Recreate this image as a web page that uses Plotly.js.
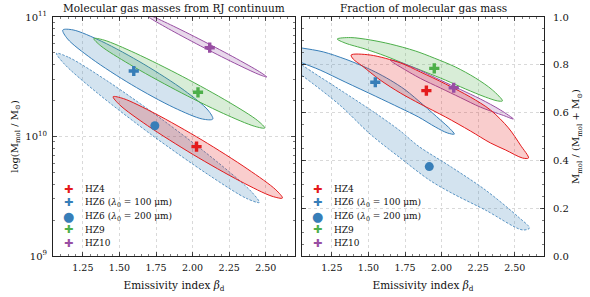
<!DOCTYPE html>
<html>
<head>
<meta charset="utf-8">
<script src="https://cdn.plot.ly/plotly-3.0.1.min.js"></script>
<style>html,body{margin:0;padding:0;background:#fff;}#chart{width:590px;height:297px;}</style>
</head>
<body>
<div id="chart"></div>
<script>
// ---------- data ----------
const sourceNames = ['HZ4', 'HZ6 (λ0 = 100 μm)', 'HZ6 (λ0 = 200 μm)', 'HZ9', 'HZ10'];
const sourceColors = ['#e41a1c', '#377eb8', '#377eb8', '#4daf4a', '#984ea3'];
const sourceSymbols = ['cross', 'cross', 'circle', 'cross', 'cross'];

// best-fit points
const bestBetaMass = [2.027, 1.598, 1.742, 2.037, 2.117];
const bestLogMass  = [9.915, 10.548, 10.090, 10.370, 10.743];
const bestBetaFrac = [1.896, 1.547, 1.916, 1.950, 2.083];
const bestFrac     = [0.692, 0.727, 0.374, 0.785, 0.704];

// confidence contours, left panel (beta, log10 M_mol)
const hz4MassBeta = [1.457,1.528,1.742,2.065,2.378,2.569,2.614,2.543,2.329,2.005,1.692,1.502];
const hz4MassLog  = [10.333,10.317,10.193,9.970,9.726,9.554,9.485,9.500,9.624,9.848,10.091,10.264];
const hz6aMassBeta = [1.113,1.183,1.379,1.667,1.943,2.105,2.138,2.068,1.872,1.584,1.309,1.146];
const hz6aMassLog  = [10.891,10.892,10.796,10.605,10.386,10.221,10.146,10.146,10.242,10.433,10.652,10.816];
const hz6bMassBeta = [1.070,1.156,1.413,1.800,2.175,2.403,2.456,2.370,2.113,1.725,1.350,1.123];
const hz6bMassLog  = [10.696,10.661,10.468,10.135,9.781,9.537,9.448,9.481,9.676,10.009,10.363,10.607];
const hz9MassBeta = [1.325,1.394,1.608,1.933,2.250,2.445,2.493,2.425,2.210,1.885,1.568,1.373];
const hz9MassLog  = [10.820,10.807,10.698,10.501,10.286,10.133,10.071,10.085,10.193,10.390,10.605,10.758];
const hz10MassBeta = [1.673,1.719,1.868,2.099,2.326,2.469,2.507,2.462,2.312,2.081,1.854,1.711];
const hz10MassLog  = [11.025,11.008,10.924,10.782,10.634,10.533,10.498,10.515,10.599,10.741,10.889,10.990];

// confidence contours, right panel (beta, gas fraction)
const hz4FracBeta = [1.382,1.512,1.718,1.855,2.026,2.197,2.334,2.457,2.539,2.594,2.553,2.436,2.334,2.197,2.026,1.855,1.718,1.581,1.458,1.396];
const hz4FracVal  = [0.841,0.841,0.808,0.770,0.720,0.665,0.611,0.536,0.464,0.410,0.410,0.444,0.473,0.523,0.582,0.636,0.682,0.736,0.795,0.824];
const hz6aFracBeta = [0.931,1.047,1.191,1.341,1.444,1.547,1.649,1.752,1.875,1.992,2.060,2.087,2.039,1.957,1.841,1.718,1.547,1.341,1.170,1.047,0.931];
const hz6aFracVal  = [0.879,0.870,0.854,0.824,0.799,0.770,0.736,0.695,0.632,0.569,0.531,0.510,0.515,0.540,0.582,0.619,0.669,0.728,0.778,0.808,0.837];
const hz6bFracBeta = [0.931,1.047,1.307,1.547,1.718,1.841,2.067,2.300,2.525,2.601,2.553,2.300,2.067,1.916,1.718,1.512,1.307,1.047,0.931];
const hz6bFracVal  = [0.854,0.799,0.695,0.598,0.523,0.460,0.372,0.276,0.163,0.117,0.109,0.192,0.264,0.318,0.410,0.510,0.630,0.755,0.805];
const hz9FracBeta = [1.287,1.376,1.512,1.649,1.820,1.950,2.094,2.231,2.347,2.416,2.382,2.300,2.163,2.026,1.889,1.752,1.615,1.478,1.341];
const hz9FracVal  = [0.908,0.914,0.904,0.887,0.858,0.828,0.791,0.745,0.695,0.649,0.649,0.665,0.699,0.736,0.770,0.803,0.837,0.866,0.891];
const hz10FracBeta = [1.649,1.718,1.855,1.992,2.128,2.265,2.402,2.491,2.423,2.265,2.128,1.992,1.855,1.718,1.663];
const hz10FracVal  = [0.820,0.810,0.776,0.736,0.697,0.657,0.611,0.573,0.588,0.623,0.663,0.703,0.743,0.791,0.812];

// axis ticks
const betaTicks = [1.25, 1.50, 1.75, 2.00, 2.25, 2.50];
const betaTickText = ['1.25', '1.50', '1.75', '2.00', '2.25', '2.50'];
const massTicks = [1e9, 1e10, 1e11];
const massTickText = ['10<sup>9</sup>', '10<sup>10</sup>', '10<sup>11</sup>'];
const massMinorTicks = [2e9,3e9,4e9,5e9,6e9,7e9,8e9,9e9,2e10,3e10,4e10,5e10,6e10,7e10,8e10,9e10];
const fracTicks = [0, 0.2, 0.4, 0.6, 0.8, 1.0];
const fracTickText = ['0.0', '0.2', '0.4', '0.6', '0.8', '1.0'];

// ---------- build traces ----------
function rgba(hex, a) {
  const r = parseInt(hex.slice(1,3),16), g = parseInt(hex.slice(3,5),16), b = parseInt(hex.slice(5,7),16);
  return 'rgba(' + r + ',' + g + ',' + b + ',' + a + ')';
}
function contour(xs, ys, idx, xa, ya, logY) {
  const x = xs.concat([xs[0]]);
  const yv = ys.concat([ys[0]]);
  const y = logY ? yv.map(v => Math.pow(10, v)) : yv;
  const c = sourceColors[idx];
  const dashed = idx === 2;
  return {
    type: 'scatter', mode: 'lines', x: x, y: y, xaxis: xa, yaxis: ya,
    fill: 'toself', fillcolor: rgba(c, 0.22),
    line: {color: c, width: dashed ? 0.8 : 1, dash: dashed ? '2.5px,1.5px' : 'solid', shape: 'spline', smoothing: 0.9},
    hoverinfo: 'skip', showlegend: false
  };
}
const traces = [
  contour(hz6bMassBeta, hz6bMassLog, 2, 'x', 'y', true),
  contour(hz6aMassBeta, hz6aMassLog, 1, 'x', 'y', true),
  contour(hz9MassBeta, hz9MassLog, 3, 'x', 'y', true),
  contour(hz10MassBeta, hz10MassLog, 4, 'x', 'y', true),
  contour(hz4MassBeta, hz4MassLog, 0, 'x', 'y', true),
  contour(hz6bFracBeta, hz6bFracVal, 2, 'x2', 'y2', false),
  contour(hz6aFracBeta, hz6aFracVal, 1, 'x2', 'y2', false),
  contour(hz9FracBeta, hz9FracVal, 3, 'x2', 'y2', false),
  contour(hz10FracBeta, hz10FracVal, 4, 'x2', 'y2', false),
  contour(hz4FracBeta, hz4FracVal, 0, 'x2', 'y2', false)
];
sourceNames.forEach((name, i) => {
  const sz = sourceSymbols[i] === 'circle' ? 9 : 8.5;
  traces.push({type:'scatter', mode:'markers', x:[bestBetaMass[i]], y:[Math.pow(10, bestLogMass[i])],
    xaxis:'x', yaxis:'y', name:name, marker:{color:sourceColors[i], symbol:sourceSymbols[i], size:sz, line:{width:0}}, showlegend:false});
  traces.push({type:'scatter', mode:'markers', x:[bestBetaFrac[i]], y:[bestFrac[i]],
    xaxis:'x2', yaxis:'y2', name:name, marker:{color:sourceColors[i], symbol:sourceSymbols[i], size:sz, line:{width:0}}, showlegend:false});
});

// ---------- legend (drawn as annotations, one per panel) ----------
const legendLabels = ['HZ4', 'HZ6 (<i>λ</i><sub>0</sub> = 100 μm)', 'HZ6 (<i>λ</i><sub>0</sub> = 200 μm)', 'HZ9', 'HZ10'];
const annotations = [];
[['x', 'y'], ['x2', 'y2']].forEach(([xa, ya]) => {
  legendLabels.forEach((lab, i) => {
    const yy = 0.279 - i * 0.0565;
    annotations.push({xref: xa + ' domain', yref: ya + ' domain', x: 0.066, y: yy, xanchor: 'center', yanchor: 'middle',
      text: sourceSymbols[i] === 'circle' ? '●' : '✚', showarrow: false,
      font: {family: 'DejaVu Sans', size: sourceSymbols[i] === 'circle' ? 13 : 11, color: sourceColors[i]}});
    annotations.push({xref: xa + ' domain', yref: ya + ' domain', x: 0.124, y: yy, xanchor: 'left', yanchor: 'middle',
      text: lab, showarrow: false, font: {family: 'DejaVu Serif', size: 9, color: '#111'}});
  });
});
annotations.push({xref:'x domain', yref:'y domain', x:0.5, y:1, yanchor:'bottom', yshift:1, showarrow:false,
  text:'Molecular gas masses from RJ continuum', font:{family:'DejaVu Serif', size:10.5, color:'#111'}});
annotations.push({xref:'x2 domain', yref:'y2 domain', x:0.5, y:1, yanchor:'bottom', yshift:1, showarrow:false,
  text:'Fraction of molecular gas mass', font:{family:'DejaVu Serif', size:10.5, color:'#111'}});

// ---------- layout ----------
const yDom = [1 - 256/297, 1 - 17/297];
function betaAxis(dom, anchor) {
  return {
    domain: dom, anchor: anchor, range: [1.046, 2.70],
    tickmode: 'array', tickvals: betaTicks, ticktext: betaTickText,
    ticks: 'inside', ticklen: 4, tickwidth: 0.8, tickcolor: '#222', mirror: 'ticks',
    showline: true, linecolor: '#222', linewidth: 1, zeroline: false,
    showgrid: true, gridcolor: '#d0d0d0', gridwidth: 0.8, griddash: 'dot',
    minor: {dtick: 0.05, tick0: 1.0, ticks: 'inside', ticklen: 2, tickcolor: '#222', tickwidth: 0.6, showgrid: false},
    ticklabelstandoff: 3,
    tickfont: {family: 'DejaVu Serif', size: 9.5, color: '#111'},
    title: {text: 'Emissivity index <i>β</i><sub>d</sub>', font: {family: 'DejaVu Serif', size: 10.5, color: '#111'}, standoff: 9}
  };
}
const layout = {
  width: 590, height: 297, margin: {l: 0, r: 0, t: 0, b: 0},
  paper_bgcolor: '#fff', plot_bgcolor: '#fff', showlegend: false,
  font: {family: 'DejaVu Serif', size: 9, color: '#111'},
  xaxis: betaAxis([53/590, 295/590], 'y'),
  xaxis2: betaAxis([302/590, 544/590], 'y2'),
  yaxis: {
    domain: yDom, anchor: 'x', type: 'log', range: [9, 11],
    tickmode: 'array', tickvals: massTicks, ticktext: massTickText,
    ticks: 'inside', ticklen: 4, tickwidth: 0.8, tickcolor: '#222', mirror: 'ticks',
    showline: true, linecolor: '#222', linewidth: 1, zeroline: false,
    showgrid: true, gridcolor: '#d0d0d0', gridwidth: 0.8, griddash: 'dot',
    minor: {tickmode: 'array', tickvals: massMinorTicks, ticks: 'inside', ticklen: 2, tickcolor: '#222', tickwidth: 0.6, showgrid: false},
    ticklabelstandoff: 3,
    tickfont: {family: 'DejaVu Serif', size: 10, color: '#111'},
    title: {text: 'log(M<sub>mol</sub> / M<sub>⊙</sub>)', font: {family: 'DejaVu Serif', size: 10, color: '#111'}, standoff: 4}
  },
  yaxis2: {
    domain: yDom, anchor: 'x2', side: 'right', range: [0, 1],
    tickmode: 'array', tickvals: fracTicks, ticktext: fracTickText,
    ticks: 'inside', ticklen: 4, tickwidth: 0.8, tickcolor: '#222', mirror: 'ticks',
    showline: true, linecolor: '#222', linewidth: 1, zeroline: false,
    showgrid: true, gridcolor: '#d0d0d0', gridwidth: 0.8, griddash: 'dot',
    minor: {dtick: 0.05, ticks: 'inside', ticklen: 2, tickcolor: '#222', tickwidth: 0.6, showgrid: false},
    ticklabelstandoff: 6,
    tickfont: {family: 'DejaVu Serif', size: 10, color: '#111'},
    title: {text: 'M<sub>mol</sub> / (M<sub>mol</sub> + M<sub>⊙</sub>)', font: {family: 'DejaVu Serif', size: 10, color: '#111'}, standoff: 4}
  },
  annotations: annotations
};
Plotly.newPlot('chart', traces, layout, {staticPlot: true, displayModeBar: false});
</script>
</body>
</html>
